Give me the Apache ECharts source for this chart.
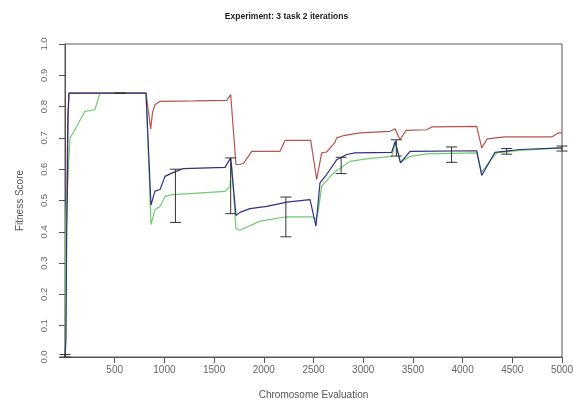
<!DOCTYPE html>
<html>
<head>
<meta charset="utf-8">
<script src="https://cdn.jsdelivr.net/npm/echarts@6/dist/echarts.min.js"></script>
<style>
  html, body { margin: 0; padding: 0; background: #fff; }
  #chart { width: 573px; height: 409px; }
</style>
</head>
<body>
<div id="chart"></div>
<script>
// evaluations (x) and fitness (y), one pair of arrays per run
let redEval = [0, 10, 25, 40, 815, 862, 880, 905, 956, 1300, 1627, 1667, 1720, 1760, 1800, 1878, 2163, 2213, 2472, 2532, 2582, 2632, 2716, 2733, 2800, 2968, 3270, 3320, 3370, 3430, 3639, 3689, 4142, 4192, 4248, 4426, 4896, 4962, 5000];
let redFit = [0, 0.31, 0.70, 0.843, 0.843, 0.729, 0.78, 0.806, 0.817, 0.818, 0.82, 0.838, 0.615, 0.615, 0.62, 0.657, 0.657, 0.692, 0.692, 0.567, 0.652, 0.655, 0.686, 0.70, 0.707, 0.716, 0.721, 0.729, 0.694, 0.724, 0.726, 0.735, 0.737, 0.668, 0.697, 0.703, 0.703, 0.716, 0.716];

let blueEval = [0, 10, 17, 25, 30, 40, 815, 865, 905, 956, 1006, 1087, 1187, 1610, 1667, 1720, 1760, 1861, 2029, 2163, 2230, 2465, 2525, 2565, 2632, 2733, 2834, 2917, 3287, 3322, 3375, 3471, 4142, 4192, 4326, 4577, 5000];
let blueFit = [0, 0.06, 0.40, 0.545, 0.78, 0.843, 0.843, 0.485, 0.53, 0.535, 0.577, 0.589, 0.602, 0.606, 0.636, 0.452, 0.462, 0.474, 0.481, 0.49, 0.495, 0.503, 0.418, 0.556, 0.583, 0.63, 0.647, 0.652, 0.654, 0.689, 0.62, 0.657, 0.659, 0.58, 0.654, 0.663, 0.668];

let greenEval = [0, 5, 10, 50, 100, 200, 300, 352, 815, 865, 905, 956, 1006, 1087, 1610, 1660, 1675, 1720, 1760, 1962, 2230, 2482, 2525, 2550, 2582, 2700, 2867, 3035, 3287, 3325, 3375, 3471, 3639, 4142, 4192, 4292, 4343, 4577, 5000];
let greenFit = [0, 0.26, 0.46, 0.70, 0.726, 0.785, 0.79, 0.843, 0.843, 0.423, 0.471, 0.481, 0.513, 0.519, 0.529, 0.545, 0.62, 0.41, 0.405, 0.434, 0.448, 0.448, 0.44, 0.47, 0.545, 0.588, 0.625, 0.633, 0.641, 0.684, 0.622, 0.641, 0.649, 0.652, 0.59, 0.633, 0.652, 0.66, 0.668];

// error bars
let barEval = [0, 556, 1111, 1667, 2222, 2778, 3333, 3889, 4444, 5000];
let barLow = [0, 0.843, 0.43, 0.458, 0.384, 0.586, 0.642, 0.622, 0.648, 0.658];
let barHigh = [0.008, 0.843, 0.60, 0.636, 0.511, 0.638, 0.694, 0.671, 0.666, 0.674];

let xTicks = [500, 1000, 1500, 2000, 2500, 3000, 3500, 4000, 4500, 5000];

function pairs(xs, ys) {
    return xs.map(function (x, i) { return [x, ys[i]]; });
}

function lineSeries(name, xs, ys, color) {
    return {
        name: name,
        type: 'line',
        data: pairs(xs, ys),
        showSymbol: false,
        symbol: 'none',
        lineStyle: { color: color, width: 1.2 },
        silent: true
    };
}

let myChart = echarts.init(document.getElementById('chart'));

let option = {
    animation: false,
    title: {
        text: 'Experiment: 3 task 2 iterations',
        left: 'center',
        top: 7,
        textStyle: {
            fontFamily: '"Liberation Sans Narrow", "Liberation Sans", Arial, sans-serif',
            fontSize: 8.5,
            fontWeight: 'bold',
            color: '#222'
        }
    },
    grid: {
        left: 65,
        right: 11,
        top: 44,
        bottom: 52,
        show: true,
        borderColor: '#555',
        borderWidth: 1,
        outerBoundsMode: 'none'
    },
    xAxis: {
        type: 'value',
        min: 0,
        max: 5000,
        interval: 500,
        name: 'Chromosome Evaluation',
        nameLocation: 'middle',
        nameGap: 33,
        nameTextStyle: { fontFamily: '"Liberation Sans", Arial, sans-serif', fontSize: 10, color: '#555' },
        axisLine: { show: true, lineStyle: { color: '#555' } },
        axisTick: { show: true, length: 6, lineStyle: { color: '#555' }, customValues: xTicks },
        axisLabel: {
            customValues: xTicks,
            fontFamily: '"Liberation Sans", Arial, sans-serif',
            fontSize: 10,
            color: '#666',
            margin: 8,
            formatter: function (v) { return String(v); }
        },
        splitLine: { show: false }
    },
    yAxis: {
        type: 'value',
        min: 0,
        max: 1,
        interval: 0.1,
        name: 'Fitness Score',
        nameLocation: 'middle',
        nameGap: 40,
        nameTextStyle: { fontFamily: '"Liberation Sans", Arial, sans-serif', fontSize: 10, color: '#555' },
        axisLine: { show: true, lineStyle: { color: '#555' } },
        axisTick: { show: true, length: 6, lineStyle: { color: '#555' } },
        axisLabel: {
            rotate: 90,
            fontFamily: '"Liberation Sans", Arial, sans-serif',
            fontSize: 9.5,
            color: '#666',
            margin: 16,
            formatter: function (v) { return v.toFixed(1); }
        },
        splitLine: { show: false }
    },
    series: [
        lineSeries('red', redEval, redFit, '#b8524f'),
        lineSeries('green', greenEval, greenFit, '#6fcc6f'),
        lineSeries('blue', blueEval, blueFit, '#30307f'),
        {
            type: 'custom',
            data: barEval.map(function (x, i) { return [x, barLow[i], barHigh[i]]; }),
            encode: { x: 0, y: [1, 2] },
            clip: false,
            silent: true,
            z: 10,
            renderItem: function (params, api) {
                let x = api.value(0);
                let lo = api.coord([x, api.value(1)]);
                let hi = api.coord([x, api.value(2)]);
                let w = 5.5;
                let style = { stroke: '#333', lineWidth: 1 };
                return {
                    type: 'group',
                    children: [
                        { type: 'line', shape: { x1: lo[0], y1: lo[1], x2: hi[0], y2: hi[1] }, style: style },
                        { type: 'line', shape: { x1: hi[0] - w, y1: hi[1], x2: hi[0] + w, y2: hi[1] }, style: style },
                        { type: 'line', shape: { x1: lo[0] - w, y1: lo[1], x2: lo[0] + w, y2: lo[1] }, style: style }
                    ]
                };
            }
        }
    ]
};

myChart.setOption(option);
</script>
</body>
</html>
